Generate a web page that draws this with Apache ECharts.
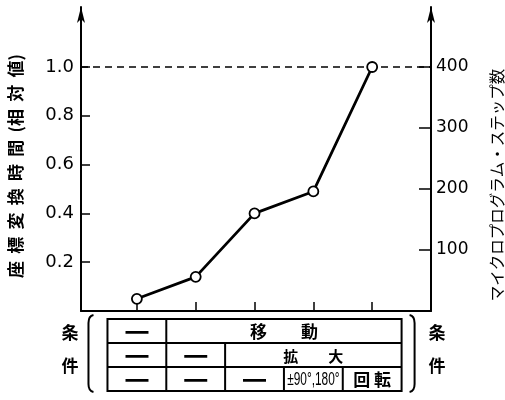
<!DOCTYPE html>
<html>
<head>
<meta charset="utf-8">
<script src="https://cdn.jsdelivr.net/npm/echarts@6/dist/echarts.min.js"></script>
<style>
html,body{margin:0;padding:0;background:#fff;}
#chart{width:505px;height:400px;}
</style>
</head>
<body>
<div id="chart"></div>
<script>
// ---- data ----
const categories = [1, 2, 3, 4, 5];               // condition index (columns of the table below)
const relTime = [0.05, 0.14, 0.40, 0.49, 1.00];   // 座標変換時間(相対値)
const leftTicks = [0.2, 0.4, 0.6, 0.8, 1.0];
const rightTicks = [100, 200, 300, 400];
const leftTitle = '座 \u2009標 \u2009変 \u2009換 \u2009時 \u2009間 \u2009(相 \u2009対 \u2009値)';
const rightTitle = 'マイクロプログラム・ステップ数';
const sideLabel = ['条', '件'];
// table rows: cell texts and how many condition columns each spans
const row1Texts = ['━', '移　　動'];
const row1Spans = [1, 4];
const row2Texts = ['━', '━', '拡　　大'];
const row2Spans = [1, 1, 3];
const row3Texts = ['━', '━', '━', '±90°,180°', '回 転'];
const row3Spans = [1, 1, 1, 1, 1];

const chart = echarts.init(document.getElementById('chart'), null, {renderer: 'canvas'});
const numFont = 'DejaVu Sans';
const jpFont = '"Noto Sans CJK JP"';
const gridTop = 7, axisY0 = 311, y1px = 67;
const yTop = 1.0 * (axisY0 - gridTop) / (axisY0 - y1px);

chart.setOption({
  animation: false,
  backgroundColor: '#fff',
  grid: {left: 81, right: 74, top: gridTop, bottom: 400 - axisY0, outerBoundsMode: 'none', containLabel: false},
  xAxis: {
    type: 'value', min: 0.05, max: 6.0,
    axisLine: {show: true, lineStyle: {color: '#000', width: 2}},
    axisTick: {show: true, inside: true, length: 9, customValues: categories, lineStyle: {color: '#000', width: 1.5}},
    axisLabel: {show: false},
    splitLine: {show: false}
  },
  yAxis: [{
    type: 'value', min: 0, max: yTop, position: 'left',
    name: leftTitle, nameLocation: 'middle', nameRotate: 90, nameGap: 57,
    nameTextStyle: {fontFamily: jpFont, fontWeight: 'bold', fontSize: 17, color: '#000', padding: [0, 14, 0, 0]},
    axisLine: {show: true, symbol: ['none', 'arrow'], symbolSize: [6, 16], lineStyle: {color: '#000', width: 2}},
    axisTick: {show: true, inside: true, length: 9, customValues: leftTicks, lineStyle: {color: '#000', width: 1.5}},
    axisLabel: {show: true, margin: 7, customValues: leftTicks, formatter: v => Number(v).toFixed(1),
      fontFamily: numFont, fontSize: 18, color: '#000'},
    splitLine: {show: false}
  }, {
    type: 'value', min: 0, max: yTop * 400, position: 'right',
    name: rightTitle, nameLocation: 'middle', nameRotate: 90, nameGap: 58,
    nameTextStyle: {fontFamily: jpFont, fontSize: 15.5, color: '#000', padding: [0, 52, 0, 0]},
    axisLine: {show: true, symbol: ['none', 'arrow'], symbolSize: [6, 16], lineStyle: {color: '#000', width: 2}},
    axisTick: {show: true, inside: true, length: 12, customValues: rightTicks, lineStyle: {color: '#000', width: 1.5}},
    axisLabel: {show: true, margin: 5, customValues: rightTicks,
      fontFamily: numFont, fontSize: 17, color: '#000'},
    splitLine: {show: false}
  }],
  series: [{
    type: 'line',
    yAxisIndex: 0,
    data: categories.map((c, i) => [c, relTime[i]]),
    symbol: 'circle', symbolSize: 10,
    lineStyle: {color: '#000', width: 2.8},
    itemStyle: {color: '#fff', borderColor: '#000', borderWidth: 1.8},
    z: 5,
    markLine: {
      silent: true, symbol: 'none', label: {show: false},
      lineStyle: {color: '#000', width: 1.5, type: [7, 5]},
      data: [{yAxis: 1.0}]
    }
  }]
});

// ---- condition table under the x axis, columns aligned to the categories ----
const px = v => chart.convertToPixel({xAxisIndex: 0}, v);
const rowY = [319, 343, 367, 391];
const rows = [[row1Texts, row1Spans], [row2Texts, row2Spans], [row3Texts, row3Spans]];
const xL = px(categories[0] - 0.5), xR = px(categories[categories.length - 1] + 0.5);
const g = [];
const lw = 2;
g.push({type: 'rect', shape: {x: xL, y: rowY[0], width: xR - xL, height: rowY[3] - rowY[0]},
  style: {fill: 'none', stroke: '#000', lineWidth: lw}});
for (let r = 1; r < 3; r++) {
  g.push({type: 'line', shape: {x1: xL, y1: rowY[r], x2: xR, y2: rowY[r]}, style: {stroke: '#000', lineWidth: lw}});
}
rows.forEach(([texts, spans], r) => {
  let start = 0;
  texts.forEach((t, k) => {
    const a = px(categories[start] - 0.5);
    const b = px(categories[start + spans[k] - 1] + 0.5);
    if (start > 0) {
      g.push({type: 'line', shape: {x1: a, y1: rowY[r], x2: a, y2: rowY[r + 1]}, style: {stroke: '#000', lineWidth: lw}});
    }
    const isDash = t === '━';
    const isSmall = t.indexOf('°') >= 0;
    g.push({type: 'text', x: (a + b) / 2, y: (rowY[r] + rowY[r + 1]) / 2 + 1,
      scaleX: isSmall ? 0.66 : 1,
      style: {text: t, fill: '#000', align: 'center', verticalAlign: 'middle',
        fontFamily: isSmall ? '"Liberation Sans"' : jpFont,
        fontWeight: isSmall ? 'normal' : 'bold',
        fontSize: isDash ? 23 : (isSmall ? 18 : (r === 1 ? 15 : 17))}});
    start += spans[k];
  });
});
// brackets and 条件 labels on both sides
const bT = 315, bB = 392;
const lb = xL - 19, rb = xR + 13;
const bracket = (x, d) => [
  {type: 'bezierCurve', shape: {x1: x + d, y1: bT, cpx1: x, cpy1: bT + 1, x2: x, y2: bT + 8}, style: {fill: 'none', stroke: '#000', lineWidth: 2}},
  {type: 'line', shape: {x1: x, y1: bT + 8, x2: x, y2: bB - 8}, style: {stroke: '#000', lineWidth: 2}},
  {type: 'bezierCurve', shape: {x1: x, y1: bB - 8, cpx1: x, cpy1: bB - 1, x2: x + d, y2: bB}, style: {fill: 'none', stroke: '#000', lineWidth: 2}}
];
g.push(...bracket(lb, 5), ...bracket(rb, -5));
[70, 437].forEach(cx => {
  sideLabel.forEach((s, i) => {
    g.push({type: 'text', x: cx, y: i === 0 ? 333 : 366,
      style: {text: s, fill: '#000', align: 'center', verticalAlign: 'middle', fontFamily: jpFont, fontWeight: 'bold', fontSize: 17}});
  });
});
chart.setOption({graphic: {elements: g}});
</script>
</body>
</html>
